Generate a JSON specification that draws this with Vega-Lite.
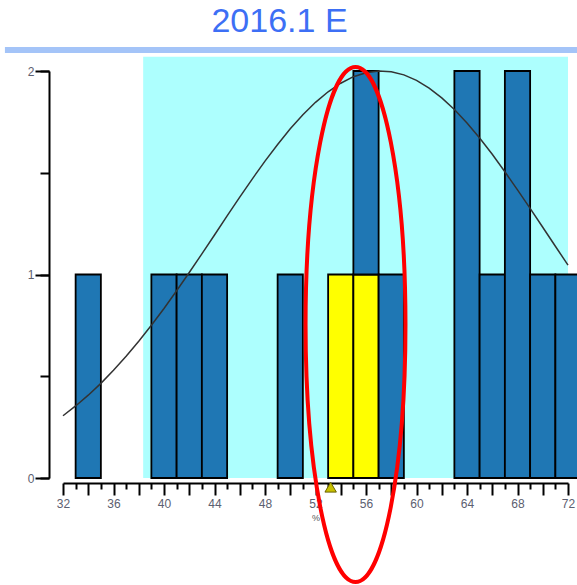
{
  "$schema": "https://vega.github.io/schema/vega-lite/v6.json",
  "width": 505,
  "height": 407,
  "autosize": {"type": "none"},
  "padding": {"left": 63, "top": 71, "right": 9, "bottom": 107},
  "background": "white",
  "title": {
    "text": "2016.1 E",
    "fontSize": 34,
    "font": "Liberation Sans",
    "fontWeight": "normal",
    "color": "#3d6ff5",
    "anchor": "middle",
    "frame": "group",
    "baseline": "alphabetic",
    "dx": -36,
    "offset": -19
  },
  "config": {"view": {"stroke": null}},
  "resolve": {"axis": {"x": "independent", "y": "independent"}},
  "datasets": {
    "band": [{"x0": 27.4, "x1": 74, "y": 2.103}],
    "spec": [{"lo": 38.35, "hi": 72, "bottom": 0, "top": 2.07}],
    "bins": [
      {"x0": 33, "x1": 35, "c0": 0, "c1": 1, "sel": "other"},
      {"x0": 39, "x1": 41, "c0": 0, "c1": 1, "sel": "other"},
      {"x0": 41, "x1": 43, "c0": 0, "c1": 1, "sel": "other"},
      {"x0": 43, "x1": 45, "c0": 0, "c1": 1, "sel": "other"},
      {"x0": 49, "x1": 51, "c0": 0, "c1": 1, "sel": "other"},
      {"x0": 53, "x1": 55, "c0": 0, "c1": 1, "sel": "selected"},
      {"x0": 55, "x1": 57, "c0": 0, "c1": 1, "sel": "selected"},
      {"x0": 55, "x1": 57, "c0": 1, "c1": 2, "sel": "other"},
      {"x0": 57, "x1": 59, "c0": 0, "c1": 1, "sel": "other"},
      {"x0": 63, "x1": 65, "c0": 0, "c1": 2, "sel": "other"},
      {"x0": 65, "x1": 67, "c0": 0, "c1": 1, "sel": "other"},
      {"x0": 67, "x1": 69, "c0": 0, "c1": 2, "sel": "other"},
      {"x0": 69, "x1": 71, "c0": 0, "c1": 1, "sel": "other"},
      {"x0": 71, "x1": 73, "c0": 0, "c1": 1, "sel": "other"}
    ],
    "curve": [
      {"x": 32, "y": 0.306}, {"x": 33, "y": 0.354}, {"x": 34, "y": 0.407}, {"x": 35, "y": 0.465},
      {"x": 36, "y": 0.529}, {"x": 37, "y": 0.598}, {"x": 38, "y": 0.672}, {"x": 39, "y": 0.751},
      {"x": 40, "y": 0.833}, {"x": 41, "y": 0.92}, {"x": 42, "y": 1.01}, {"x": 43, "y": 1.101},
      {"x": 44, "y": 1.194}, {"x": 45, "y": 1.288}, {"x": 46, "y": 1.38}, {"x": 47, "y": 1.47},
      {"x": 48, "y": 1.557}, {"x": 49, "y": 1.639}, {"x": 50, "y": 1.716}, {"x": 51, "y": 1.785},
      {"x": 52, "y": 1.846}, {"x": 53, "y": 1.898}, {"x": 54, "y": 1.94}, {"x": 55, "y": 1.972},
      {"x": 56, "y": 1.991}, {"x": 57, "y": 2.0}, {"x": 58, "y": 1.996}, {"x": 59, "y": 1.981},
      {"x": 60, "y": 1.954}, {"x": 61, "y": 1.916}, {"x": 62, "y": 1.868}, {"x": 63, "y": 1.811},
      {"x": 64, "y": 1.744}, {"x": 65, "y": 1.671}, {"x": 66, "y": 1.591}, {"x": 67, "y": 1.505},
      {"x": 68, "y": 1.416}, {"x": 69, "y": 1.325}, {"x": 70, "y": 1.232}, {"x": 71, "y": 1.139},
      {"x": 72, "y": 1.046}
    ],
    "marker": [{"x": 53.2, "y": -0.045}],
    "ring": [{"x": 55.17, "y": 0.754}]
  },
  "layer": [
    {
      "data": {"name": "spec"},
      "mark": {"type": "rect", "color": "#adfffe", "clip": false},
      "encoding": {
        "x": {"field": "lo", "type": "quantitative", "scale": {"domain": [32, 72], "nice": false, "zero": false},
          "axis": {
            "orient": "bottom",
            "values": [32,34,36,38,40,42,44,46,48,50,52,54,56,58,60,62,64,66,68,70,72],
            "labelExpr": "datum.value % 4 == 0 ? datum.label : ''",
            "tickSize": 12,
            "tickWidth": 2,
            "tickColor": "black",
            "domainColor": "black",
            "domainWidth": 2,
            "offset": 5,
            "grid": false,
            "labelFont": "Liberation Sans",
            "labelFontSize": 12,
            "labelColor": "#5c6070",
            "labelPadding": 3,
            "labelFlush": false,
            "labelOverlap": false,
            "title": "%",
            "titleFont": "Liberation Sans",
            "titleFontSize": 9,
            "titleFontWeight": "normal",
            "titleColor": "#555",
            "titlePadding": 4
          }},
        "x2": {"field": "hi"},
        "y": {"field": "bottom", "type": "quantitative", "scale": {"domain": [0, 2], "nice": false},
          "axis": {
            "orient": "left",
            "values": [0, 0.5, 1, 1.5, 2],
            "labelExpr": "datum.value % 1 == 0 ? format(datum.value, 'd') : ''",
            "tickSize": 9,
            "tickWidth": 2,
            "tickColor": "black",
            "domainColor": "black",
            "domainWidth": 2,
            "offset": 14,
            "grid": false,
            "labelFont": "Liberation Sans",
            "labelFontSize": 12,
            "labelColor": "#5c6070",
            "labelPadding": 6,
            "labelFlush": false,
            "labelOverlap": false,
            "title": null
          }},
        "y2": {"field": "top"}
      }
    },
    {
      "data": {"name": "band"},
      "mark": {"type": "rule", "color": "#a4c4f8", "strokeWidth": 6, "clip": false},
      "encoding": {
        "x": {"field": "x0", "type": "quantitative",
          "axis": {
            "orient": "bottom",
            "values": [33,35,37,39,41,43,45,47,49,51,53,55,57,59,61,63,65,67,69,71],
            "labels": false,
            "domain": false,
            "tickSize": 6,
            "tickWidth": 2,
            "tickColor": "black",
            "offset": 5,
            "grid": false,
            "title": null
          }},
        "x2": {"field": "x1"},
        "y": {"field": "y", "type": "quantitative",
          "axis": {
            "orient": "left",
            "values": [0, 1, 2],
            "labels": false,
            "domain": false,
            "tickSize": 14,
            "tickWidth": 2,
            "tickColor": "black",
            "offset": 14,
            "grid": false,
            "title": null
          }}
      }
    },
    {
      "data": {"name": "bins"},
      "mark": {"type": "bar", "stroke": "black", "strokeWidth": 1.8, "clip": false, "opacity": 1},
      "encoding": {
        "x": {"field": "x0", "type": "quantitative", "axis": null},
        "x2": {"field": "x1"},
        "y": {"field": "c0", "type": "quantitative", "axis": null},
        "y2": {"field": "c1"},
        "color": {"field": "sel", "type": "nominal", "scale": {"domain": ["other", "selected"], "range": ["#1f77b4", "#ffff00"]}, "legend": null}
      }
    },
    {
      "data": {"name": "curve"},
      "mark": {"type": "line", "color": "#333333", "strokeWidth": 1.5},
      "encoding": {
        "x": {"field": "x", "type": "quantitative", "axis": null},
        "y": {"field": "y", "type": "quantitative", "axis": null}
      }
    },
    {
      "data": {"name": "marker"},
      "mark": {"type": "point", "shape": "triangle-up", "filled": true, "size": 130, "fill": "#c8c000", "stroke": "#6a6400", "strokeWidth": 1, "opacity": 1, "clip": false},
      "encoding": {
        "x": {"field": "x", "type": "quantitative", "axis": null},
        "y": {"field": "y", "type": "quantitative", "axis": null}
      }
    },
    {
      "data": {"name": "ring"},
      "mark": {
        "type": "point",
        "shape": "M 0 -1 C 0.1072 -1 0.194 -0.5523 0.194 0 C 0.194 0.5523 0.1072 1 0 1 C -0.1072 1 -0.194 0.5523 -0.194 0 C -0.194 -0.5523 -0.1072 -1 0 -1 Z",
        "size": 265225,
        "filled": false,
        "stroke": "#ff0000",
        "strokeWidth": 4,
        "opacity": 1,
        "clip": false
      },
      "encoding": {
        "x": {"field": "x", "type": "quantitative", "axis": null},
        "y": {"field": "y", "type": "quantitative", "axis": null}
      }
    }
  ]
}
